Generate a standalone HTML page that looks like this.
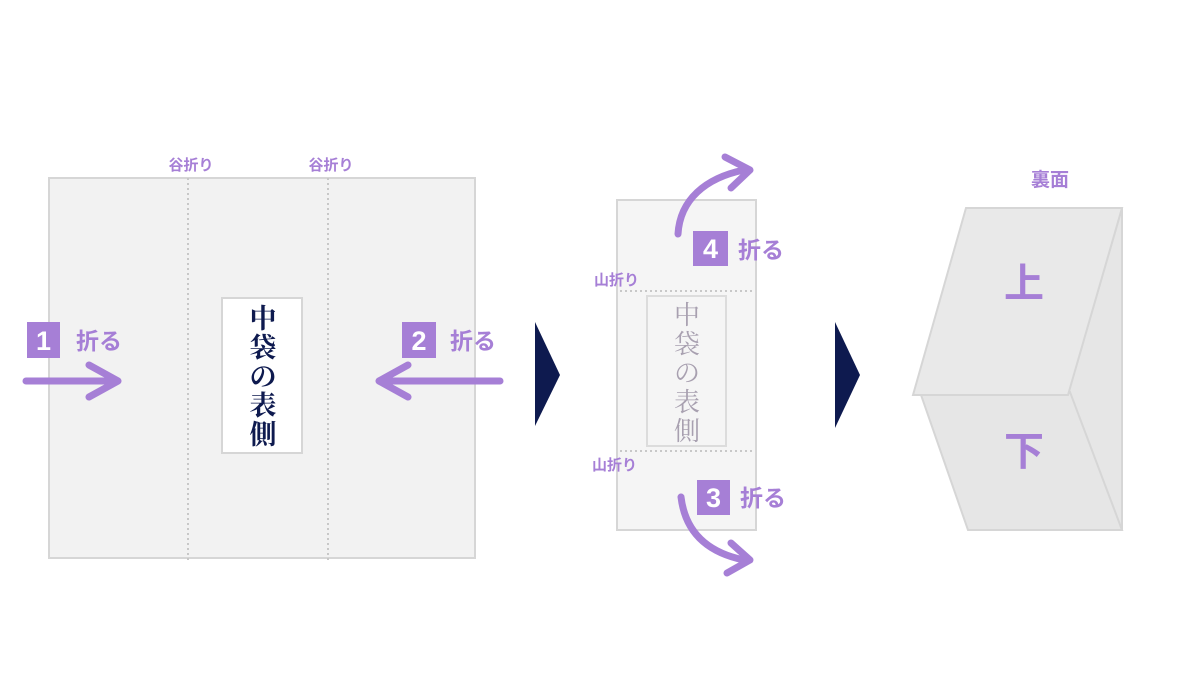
<!DOCTYPE html>
<html><head><meta charset="utf-8"><style>
body{margin:0;width:1200px;height:675px;background:#fff;overflow:hidden}
</style></head><body>
<svg width="1200" height="675" viewBox="0 0 1200 675" xmlns="http://www.w3.org/2000/svg" font-family="Liberation Sans, Noto Sans CJK JP, sans-serif">
<rect x="49" y="178" width="426" height="380" fill="#f2f2f2" stroke="#d6d6d6" stroke-width="2"/>
<line x1="188" y1="178" x2="188" y2="563" stroke="#c8c8c8" stroke-width="2" stroke-dasharray="2,3"/>
<line x1="328" y1="178" x2="328" y2="563" stroke="#c8c8c8" stroke-width="2" stroke-dasharray="2,3"/>
<text x="191" y="170" font-size="15" font-weight="bold" fill="#a67fd6" text-anchor="middle">谷折り</text>
<text x="331" y="170" font-size="15" font-weight="bold" fill="#a67fd6" text-anchor="middle">谷折り</text>
<rect x="222" y="298" width="80" height="155" fill="#fff" stroke="#d6d6d6" stroke-width="2"/>
<g font-family="Liberation Serif, Noto Serif CJK SC, serif" font-size="27" font-weight="bold" fill="#0e1a4f" text-anchor="middle">
<text x="263" y="328">中</text><text x="263" y="357">袋</text><text x="263" y="386">の</text><text x="263" y="415">表</text><text x="263" y="444">側</text></g>
<rect x="27" y="322" width="33" height="36" fill="#a67fd6"/>
<text x="43.5" y="350" font-size="27" font-weight="bold" fill="#fff" text-anchor="middle">1</text>
<text x="76" y="349" font-size="23" font-weight="bold" fill="#a67fd6">折る</text>
<rect x="402" y="322" width="34" height="36" fill="#a67fd6"/>
<text x="419" y="350" font-size="27" font-weight="bold" fill="#fff" text-anchor="middle">2</text>
<text x="450" y="349" font-size="23" font-weight="bold" fill="#a67fd6">折る</text>
<g stroke="#a67fd6" stroke-width="7" stroke-linecap="round" fill="none" stroke-linejoin="round">
<path d="M26 381 H116"/><path d="M89 365 L118 381 L89 397"/>
<path d="M500 381 H381"/><path d="M408 365 L379 381 L408 397"/>
</g>
<polygon points="535,322 560,375 535,426" fill="#0e1a4f"/>
<polygon points="835,322 860,375 835,428" fill="#0e1a4f"/>
<rect x="617" y="200" width="139" height="330" fill="#f5f5f5" stroke="#d6d6d6" stroke-width="2"/>
<line x1="620" y1="291" x2="755" y2="291" stroke="#c8c8c8" stroke-width="2" stroke-dasharray="2,3"/>
<line x1="620" y1="451" x2="755" y2="451" stroke="#c8c8c8" stroke-width="2" stroke-dasharray="2,3"/>
<rect x="647" y="296" width="79" height="150" fill="#f5f5f5" stroke="#dcdcdc" stroke-width="2"/>
<g font-family="Liberation Serif, Noto Serif CJK SC, serif" font-size="26" fill="#a8a0b0" text-anchor="middle">
<text x="687" y="324">中</text><text x="687" y="353">袋</text><text x="687" y="382">の</text><text x="687" y="411">表</text><text x="687" y="440">側</text></g>
<text x="594" y="285" font-size="15" font-weight="bold" fill="#a67fd6">山折り</text>
<text x="592" y="470" font-size="15" font-weight="bold" fill="#a67fd6">山折り</text>
<rect x="693" y="231" width="35" height="35" fill="#a67fd6"/>
<text x="710.5" y="258" font-size="27" font-weight="bold" fill="#fff" text-anchor="middle">4</text>
<text x="738" y="258" font-size="23" font-weight="bold" fill="#a67fd6">折る</text>
<rect x="697" y="480" width="33" height="35" fill="#a67fd6"/>
<text x="713.5" y="507" font-size="27" font-weight="bold" fill="#fff" text-anchor="middle">3</text>
<text x="740" y="506" font-size="23" font-weight="bold" fill="#a67fd6">折る</text>
<g stroke="#a67fd6" stroke-width="7" stroke-linecap="round" fill="none" stroke-linejoin="round">
<path d="M678 234 C680 200 705 178 744 170"/><path d="M725 157 L750 170 L731 188"/>
<path d="M681 497 C685 530 705 552 744 560"/><path d="M731 543 L750 560 L727 573"/>
</g>
<polygon points="1122,208 1122,530 1068,394" fill="#e6e6e6" stroke="#d6d6d6" stroke-width="2"/>
<polygon points="920,392 1070,392 1122,530 968,530" fill="#e6e6e6" stroke="#d6d6d6" stroke-width="2"/>
<polygon points="966,208 1122,208 1068,395 913,395" fill="#e9e9e9" stroke="#d6d6d6" stroke-width="2"/>
<text x="1050" y="186" font-size="19" font-weight="bold" fill="#a67fd6" text-anchor="middle">裏面</text>
<text x="1024" y="297" font-size="40" font-weight="bold" fill="#a67fd6" text-anchor="middle">上</text>
<text x="1024" y="465" font-size="40" font-weight="bold" fill="#a67fd6" text-anchor="middle">下</text>
</svg>
</body></html>
